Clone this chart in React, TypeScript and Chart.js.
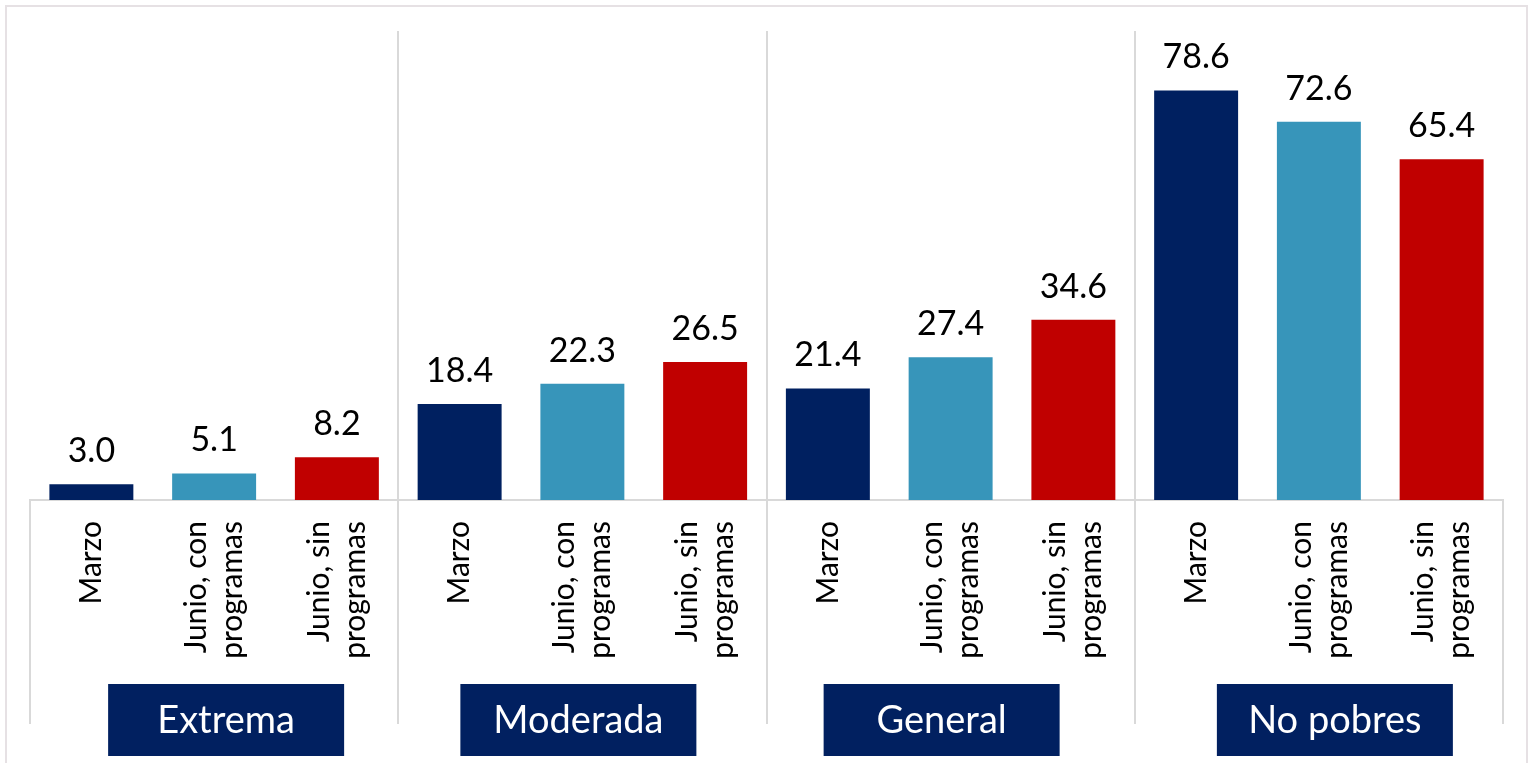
import React, { useEffect, useRef } from "react";
import { Chart, registerables } from "chart.js";

Chart.register(...registerables);

const categoryLabels: (string | string[])[] = [
  "Marzo", ["Junio, con", "programas"], ["Junio, sin", "programas"],
  "Marzo", ["Junio, con", "programas"], ["Junio, sin", "programas"],
  "Marzo", ["Junio, con", "programas"], ["Junio, sin", "programas"],
  "Marzo", ["Junio, con", "programas"], ["Junio, sin", "programas"],
];
const groupNames = ["Extrema", "Moderada", "General", "No pobres"];
const values = [3.0, 5.1, 8.2, 18.4, 22.3, 26.5, 21.4, 27.4, 34.6, 78.6, 72.6, 65.4];
const seriesColors = ["#002060", "#3795BA", "#C00000"];
const groupBoxShift = [12, -4, -9, 16];

const FONT = "Lato, 'Open Sans', sans-serif";
const GRID = "#d9d9d9";

const overlayPlugin = {
  id: "overlay",
  beforeDraw(chart: any) {
    const ctx = chart.ctx;
    ctx.save();
    ctx.fillStyle = "#ffffff";
    ctx.fillRect(0, 0, chart.width, chart.height);
    ctx.strokeStyle = "#e6e1e4";
    ctx.lineWidth = 2;
    ctx.strokeRect(6, 6, chart.width - 12, chart.height - 4);
    ctx.restore();
  },
  afterDraw(chart: any) {
    const ctx = chart.ctx;
    const xs = chart.scales.x;
    const meta = chart.getDatasetMeta(0);
    ctx.save();
    // value labels
    ctx.fillStyle = "#000000";
    ctx.font = `34px ${FONT}`;
    ctx.textAlign = "center";
    ctx.textBaseline = "alphabetic";
    meta.data.forEach((bar: any, i: number) => {
      ctx.fillText(values[i].toFixed(1), bar.x, bar.y - 22);
    });
    // category labels (rotated)
    ctx.font = `30px ${FONT}`;
    const lh = 36;
    categoryLabels.forEach((lab, i) => {
      const lines = Array.isArray(lab) ? lab : [lab];
      const x = xs.getPixelForValue(i);
      ctx.save();
      ctx.translate(x, 521);
      ctx.rotate(-Math.PI / 2);
      ctx.textAlign = "right";
      ctx.textBaseline = "middle";
      lines.forEach((ln, j) => {
        ctx.fillText(ln, 0, (j - (lines.length - 1) / 2) * lh);
      });
      ctx.restore();
    });
    // group boxes
    groupNames.forEach((name, g) => {
      const x0 = xs.getPixelForValue(g * 3);
      const x2 = xs.getPixelForValue(g * 3 + 2);
      const cx = (x0 + x2) / 2 + groupBoxShift[g];
      const w = 236;
      const h = 72;
      const top = 684;
      ctx.fillStyle = "#012060";
      ctx.fillRect(cx - w / 2, top, w, h);
      ctx.fillStyle = "#ffffff";
      ctx.font = `38px ${FONT}`;
      ctx.textAlign = "center";
      ctx.textBaseline = "middle";
      ctx.fillText(name, cx, top + h / 2 + 1);
    });
    ctx.restore();
  },
};

export default function App() {
  const canvasRef = useRef<HTMLCanvasElement | null>(null);

  useEffect(() => {
    let chart: Chart | null = null;
    let cancelled = false;
    const build = () => {
      if (cancelled || !canvasRef.current) return;
      chart = new Chart(canvasRef.current, {
        type: "bar",
        data: {
          labels: categoryLabels as any,
          datasets: [
            {
              data: values,
              backgroundColor: values.map((_, i) => seriesColors[i % 3]),
              barPercentage: 0.684,
              categoryPercentage: 1,
            },
          ],
        },
        options: {
          responsive: false,
          animation: false,
          layout: { padding: { left: 30, right: 30, top: 31, bottom: 39 } },
          plugins: { legend: { display: false }, tooltip: { enabled: false } },
          scales: {
            x: {
              offset: true,
              ticks: { display: false },
              grid: {
                offset: true,
                drawOnChartArea: true,
                drawTicks: true,
                tickLength: 224,
                lineWidth: 2,
                color: (c: any) =>
                  c.index !== undefined && c.index % 3 === 0 && c.index > 0 ? GRID : "rgba(0,0,0,0)",
                tickColor: (c: any) =>
                  c.index === undefined || c.index % 3 === 0 ? GRID : "rgba(0,0,0,0)",
              },
              border: { display: true, color: GRID, width: 2 },
            },
            y: { display: false, min: 0, max: 90 },
          },
        },
        plugins: [overlayPlugin],
      });
    };
    const fonts: any = (document as any).fonts;
    if (fonts && fonts.load) {
      Promise.all([fonts.load(`34px Lato`), fonts.load(`38px Lato`)]).then(build, build);
    } else build();
    return () => {
      cancelled = true;
      if (chart) chart.destroy();
    };
  }, []);

  return (
    <div style={{ position: "fixed", left: 0, top: 0, width: 1533, height: 763, background: "#fff" }}>
      <canvas ref={canvasRef} width={1533} height={763} />
    </div>
  );
}
